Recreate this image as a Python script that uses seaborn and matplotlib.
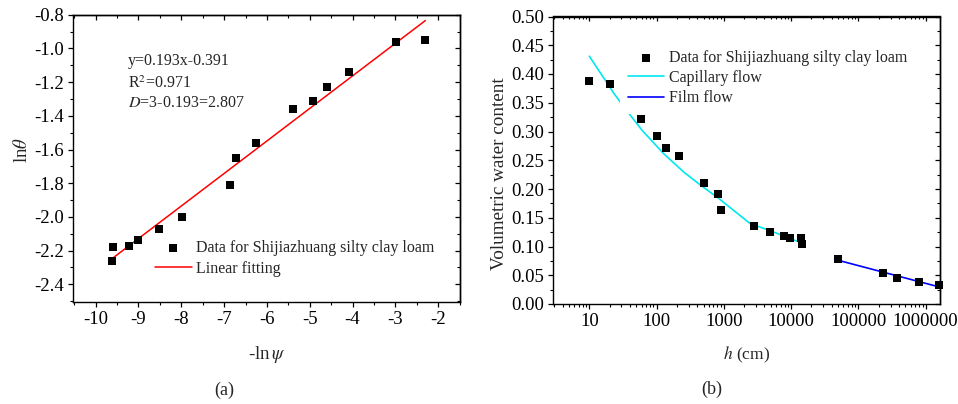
import matplotlib
matplotlib.use("Agg")
import matplotlib.pyplot as plt
import seaborn as sns
import numpy as np
import pandas as pd
from matplotlib.ticker import MultipleLocator, FormatStrFormatter, FuncFormatter, LogLocator, NullFormatter

# ---------------- data ----------------
# panel (a): ln(theta) vs -ln(psi)
neg_ln_psi = [-9.63, -9.60, -9.23, -9.00, -8.53, -7.98, -6.87, -6.72, -6.25,
              -5.38, -4.93, -4.60, -4.09, -2.99, -2.30]
ln_theta = [-2.26, -2.18, -2.17, -2.14, -2.07, -2.00, -1.81, -1.65, -1.56,
            -1.36, -1.31, -1.23, -1.14, -0.96, -0.95]
fit_x = [-9.63, -2.30]
fit_y = [-2.25, -0.835]
fit_text = ["y=0.193x-0.391", "R$^2$=0.971", "$D$=3-0.193=2.807"]

# panel (b): volumetric water content vs h
h_cm = [10, 20, 59, 100, 138, 215, 513, 811, 917, 2830, 4870, 7830, 9700,
        14200, 14500, 50000, 233000, 375000, 800000, 1550000]
theta = [0.387, 0.382, 0.322, 0.293, 0.271, 0.258, 0.210, 0.192, 0.164, 0.136,
         0.126, 0.118, 0.114, 0.114, 0.105, 0.079, 0.0535, 0.046, 0.0385, 0.033]
cap_h = [10, 23, 32, 60, 126, 250, 447, 830, 2450, 5000, 14500]
cap_theta = [0.431, 0.367, 0.344, 0.303, 0.262, 0.230, 0.207, 0.184, 0.140, 0.127, 0.106]
film_h = [50000, 1550000]
film_theta = [0.076, 0.030]

xticks_a = [-10, -9, -8, -7, -6, -5, -4, -3, -2]
yticks_a = [-2.4, -2.2, -2.0, -1.8, -1.6, -1.4, -1.2, -1.0, -0.8]
xticks_b = [10, 100, 1000, 10000, 100000, 1000000]
yticks_b = [0.00, 0.05, 0.10, 0.15, 0.20, 0.25, 0.30, 0.35, 0.40, 0.45, 0.50]

# ---------------- style ----------------
sns.set_theme(style="ticks")
plt.rcParams["font.family"] = ["Liberation Serif", "DejaVu Serif"]
plt.rcParams["mathtext.fontset"] = "stix"
plt.rcParams["axes.unicode_minus"] = False
plt.rcParams["axes.linewidth"] = 1.0
plt.rcParams["axes.edgecolor"] = "black"

TICK_FS = 13.5
LAB_FS = 13.5
LEG_FS = 11.5

fig = plt.figure(figsize=(9.58, 4.04), dpi=100)
W, H = 958.0, 404.0
axA = fig.add_axes([73 / W, 1 - 302 / H, (460 - 73) / W, (302 - 14.7) / H])
axB = fig.add_axes([553.3 / W, 1 - 304 / H, (940 - 553.3) / W, (304 - 16.5) / H])

# ---------------- panel (a) ----------------
dfA = pd.DataFrame({"x": neg_ln_psi, "y": ln_theta})
sns.scatterplot(data=dfA, x="x", y="y", ax=axA, marker="s", s=30, color="black",
                linewidth=0, label="Data for Shijiazhuang silty clay loam", zorder=3)
dfFit = pd.DataFrame({"x": fit_x, "y": fit_y})
sns.lineplot(data=dfFit, x="x", y="y", ax=axA, color="#ff0000", linewidth=1.1,
             label="Linear fitting", zorder=2)
axA.set_xlim(-10.53, -1.49)
axA.set_ylim(-2.505, -0.8)
axA.set_xticks(xticks_a)
axA.set_yticks(yticks_a)
axA.xaxis.set_minor_locator(MultipleLocator(0.5))
axA.yaxis.set_minor_locator(MultipleLocator(0.1))
axA.yaxis.set_major_formatter(FormatStrFormatter("%.1f"))
axA.xaxis.set_major_formatter(FormatStrFormatter("%d"))
axA.set_xlabel(r"-ln$\,\psi$", fontsize=LAB_FS, labelpad=11)
axA.set_ylabel(r"ln$\theta$", fontsize=LAB_FS)
axA.yaxis.set_label_coords(-0.108, 0.53)

tx = -9.245
for t, ty in zip(fit_text, [-1.098, -1.234, -1.349]):
    axA.text(tx, ty, t, fontsize=LEG_FS, va="baseline", ha="left")

legA = axA.legend(loc="upper left", bbox_to_anchor=(155 / W, 1 - (249 - 9.2) / H),
                  bbox_transform=fig.transFigure, frameon=False, fontsize=LEG_FS,
                  borderpad=0, borderaxespad=0, handlelength=2.3, handletextpad=0.25,
                  labelspacing=0.32, scatterpoints=1)

# ---------------- panel (b) ----------------
dfB = pd.DataFrame({"h": h_cm, "theta": theta})
sns.scatterplot(data=dfB, x="h", y="theta", ax=axB, marker="s", s=30, color="black",
                linewidth=0, label="Data for Shijiazhuang silty clay loam", zorder=3,
                clip_on=False)
dfCap = pd.DataFrame({"h": cap_h, "theta": cap_theta})
sns.lineplot(data=dfCap, x="h", y="theta", ax=axB, color="#00e8f0", linewidth=1.2,
             label="Capillary flow", zorder=2)
dfFilm = pd.DataFrame({"h": film_h, "theta": film_theta})
sns.lineplot(data=dfFilm, x="h", y="theta", ax=axB, color="#0000ff", linewidth=1.2,
             label="Film flow", zorder=2)
axB.set_xscale("log")
axB.set_xlim(10 ** 0.465, 10 ** 6.2125)
axB.set_ylim(0.0, 0.5)
axB.set_xticks(xticks_b)
axB.xaxis.set_minor_locator(LogLocator(base=10, subs=np.arange(2, 10)))
axB.xaxis.set_minor_formatter(NullFormatter())
axB.xaxis.set_major_formatter(FuncFormatter(lambda v, p: f"{v:.0f}"))
axB.set_yticks(yticks_b)
axB.yaxis.set_minor_locator(MultipleLocator(0.025))
axB.yaxis.set_major_formatter(FormatStrFormatter("%.2f"))
axB.set_xlabel(r"$h$ (cm)", fontsize=12.5, labelpad=10)
axB.set_ylabel("Volumetric water content", fontsize=13.8)
axB.yaxis.set_label_coords(-0.117, 0.454)

legB = axB.legend(loc="upper left", bbox_to_anchor=((627.7 - 8) / W, 1 - (59 - 9.2 - 8) / H),
                  bbox_transform=fig.transFigure, frameon=True, fancybox=False,
                  facecolor="white", edgecolor="none", framealpha=1, fontsize=LEG_FS,
                  borderpad=0.5, borderaxespad=0, handlelength=2.3, handletextpad=0.3,
                  labelspacing=0.26, scatterpoints=1)
legB.get_frame().set_linewidth(0)

# ---------------- ticks and mirrored axes ----------------
for ax in (axA, axB):
    for sp in ax.spines.values():
        sp.set_visible(True)
        sp.set_color("black")
        sp.set_linewidth(1.0)
    ax.tick_params(which="major", direction="out", length=3.8, width=0.9,
                   labelsize=TICK_FS, colors="black", pad=3)
    ax.tick_params(which="minor", direction="out", length=2.2, width=0.8, colors="black")
    ax.tick_params(top=False, right=False, which="both")
    ax.grid(False)

secAx = axA.secondary_xaxis("top")
secAx.set_xticks(xticks_a)
secAx.xaxis.set_minor_locator(MultipleLocator(0.5))
secAy = axA.secondary_yaxis("right")
secAy.set_yticks(yticks_a)
secAy.yaxis.set_minor_locator(MultipleLocator(0.1))

secBx = axB.secondary_xaxis("top")
secBx.set_xticks(xticks_b)
secBx.xaxis.set_minor_locator(LogLocator(base=10, subs=np.arange(2, 10)))
secBy = axB.secondary_yaxis("right")
secBy.set_yticks(yticks_b)
secBy.yaxis.set_minor_locator(MultipleLocator(0.025))

for s in (secAx, secBx):
    s.tick_params(which="major", direction="in", length=3.8, width=0.9,
                  labeltop=False, labelbottom=False, colors="black")
    s.tick_params(which="minor", direction="in", length=2.2, width=0.8,
                  labeltop=False, labelbottom=False, colors="black")
    s.spines["top"].set_linewidth(1.0)
for s in (secAy, secBy):
    s.tick_params(which="major", direction="in", length=3.8, width=0.9,
                  labelright=False, labelleft=False, colors="black")
    s.tick_params(which="minor", direction="in", length=2.2, width=0.8,
                  labelright=False, labelleft=False, colors="black")
    s.spines["right"].set_linewidth(1.0)

fig.text(224 / W, 1 - 390 / H, "(a)", fontsize=13, ha="center", va="center")
fig.text(712 / W, 1 - 389 / H, "(b)", fontsize=13, ha="center", va="center")

fig.savefig("out.png", dpi=100, facecolor="white")
